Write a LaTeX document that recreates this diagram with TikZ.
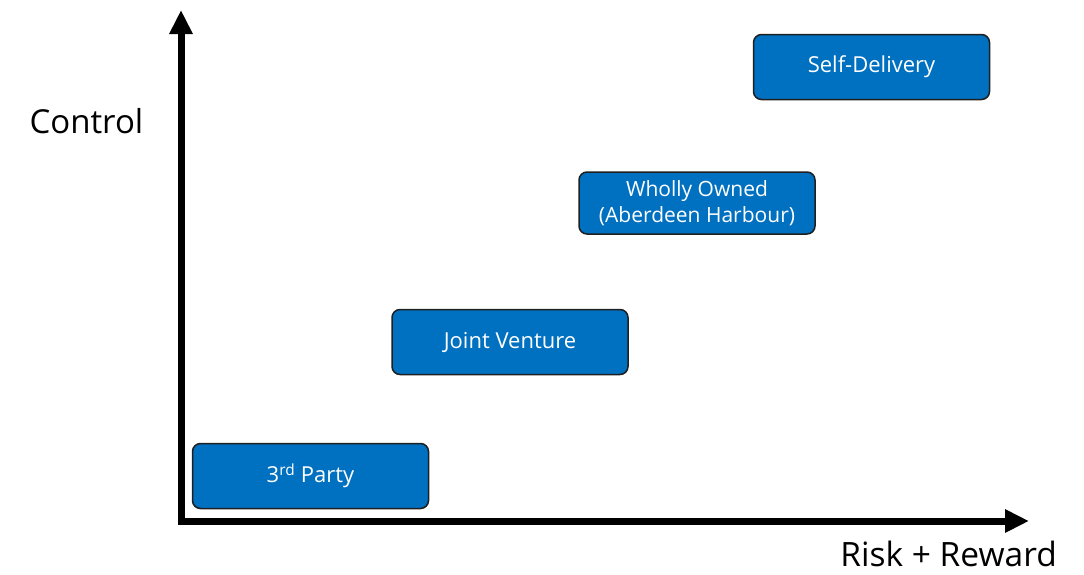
\documentclass[tikz,border=0pt]{standalone}
\usepackage{fontspec}
\setmainfont{Open Sans}
\usepackage{tikz}
\usetikzlibrary{arrows.meta, positioning}
\definecolor{boxblue}{HTML}{0070C0}
\definecolor{edge}   {HTML}{1F1F1F}
\tikzset{
  option/.style={draw=edge, line width=1.5pt, fill=boxblue, rounded corners=8pt,
    minimum width=236pt, minimum height=65pt, align=center, text=white,
    font=\fontsize{22}{26}\selectfont},
  axis/.style={line width=7pt, -{Triangle[length=24pt, width=22pt]}}
}
\begin{document}
\begin{tikzpicture}[x=1pt, y=-1pt]
      \useasboundingbox (0,0) rectangle (1084,574);
      \coordinate (origin) at (181,521);
      \coordinate (ytop) at (181,10);
      \coordinate (xend) at (1029,521);
      \draw[axis] ([yshift=-3.5pt]origin) -- (ytop);
      \draw[axis] ([xshift=-3.5pt]origin) -- (xend);
      \node[anchor=west, font=\fontsize{33}{38}\selectfont] (ctl) at (26,121) {Control};
      \node[anchor=base east, inner sep=0pt, font=\fontsize{33.5}{38}\selectfont] (rr) at (1057,566) {Risk + Reward};
      % options, from least to most control
      \node[option] (third) at (310.5,476) {3\textsuperscript{rd} Party};
      \node[option] (jv) at (510,342) {Joint Venture};
      \node[option, minimum height=62pt, font=\fontsize{21}{26}\selectfont] (wo) at (697,203) {Wholly Owned\\(Aberdeen Harbour)};
      \node[option] (self) at (871.5,67) {Self-Delivery};
    \end{tikzpicture}
\end{document}
